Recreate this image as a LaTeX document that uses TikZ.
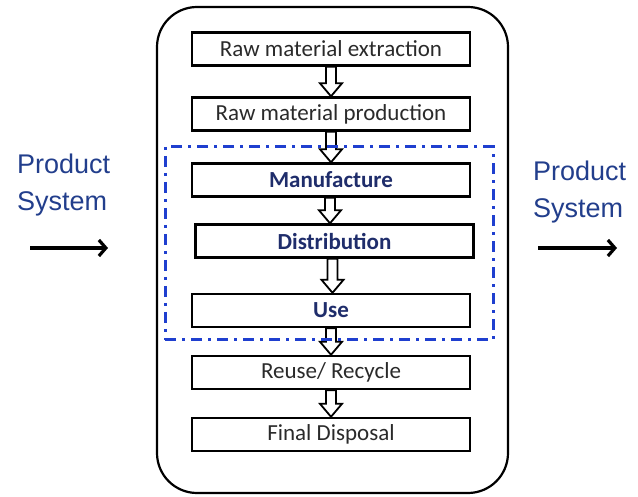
\documentclass[tikz,border=0pt]{standalone}
\usepackage{fontspec}
\setmainfont{Carlito}
\newfontfamily\arialfont{Liberation Sans}
\usetikzlibrary{arrows.meta,calc}
\definecolor{scopeblue}{HTML}{1F3FCF}
\definecolor{navytext}{HTML}{1F2D6B}
\definecolor{greytext}{HTML}{2A2A2A}
\definecolor{systemblue}{HTML}{223E8C}

\begin{document}
\begin{tikzpicture}[x=1pt,y=-1pt,
  stage/.style={draw,line width=2.4pt,minimum width=278pt,minimum height=33pt,
                inner sep=0pt,font=\fontsize{23}{26}\selectfont,text=greytext},
  inscope/.style={stage,font=\fontsize{23}{26}\selectfont\bfseries,text=navytext},
  blockarrow/.style={draw,line width=1.8pt,
    to path={let \p1=(\tikztostart),\p2=(\tikztotarget) in
      (\x1-5pt,\y1) -- (\x1-5pt,\y2+13pt) -- (\x1-11pt,\y2+13pt) -- (\x1,\y2)
      -- (\x1+11pt,\y2+13pt) -- (\x1+5pt,\y2+13pt) -- (\x1+5pt,\y1) -- cycle}},
  label/.style={align=left,text=systemblue,inner sep=0pt,
                font=\arialfont\fontsize{27}{37}\selectfont},
  flow/.style={line width=3.2pt,-{Straight Barb[length=7pt,width=16pt]}}]
  \useasboundingbox (0,0) rectangle (638,497);
  \node[draw,line width=2.2pt,rounded corners=40pt,minimum width=351pt,
        minimum height=486pt] (system) at (332.5,250) {};
  \node[stage] (extract) at (331,49) {Raw material extraction};
  \node[stage] (produce) at (331,114) {Raw material production};
  \node[inscope] (make) at (331,180) {Manufacture};
  \node[inscope] (distrib) at (334.5,241) {Distribution};
  \node[inscope] (use) at (331,310.5) {Use};
  \node[stage] (recycle) at (331,372.5) {Reuse/ Recycle};
  \node[stage] (dispose) at (331,434.5) {Final Disposal};
  \draw[blockarrow] (extract.south) to (produce.north);
  \draw[blockarrow] (produce.south) to (make.north);
  \draw[blockarrow] ([xshift=-1pt]make.south) to (distrib.north);
  \draw[blockarrow] ([xshift=-2pt]distrib.south) to (use.north);
  \draw[blockarrow] (use.south) to (recycle.north);
  \draw[blockarrow] (recycle.south) to (dispose.north);
  % study scope
  \node[draw=scopeblue,line width=3pt,
        dash pattern=on 11pt off 6pt on 3pt off 6pt,
        minimum width=328pt,minimum height=193pt] (scope) at (329,243.5) {};
  % product system in and out
  \node[label,anchor=west] (insys) at (17,185) {Product\\System};
  \node[label,anchor=west] (outsys) at (533,192) {Product\\System};
  \coordinate (intail) at (30,248);
  \coordinate (inhead) at (108,248);
  \coordinate (outtail) at (538,248);
  \coordinate (outhead) at (617,248);
  \draw[flow] (intail) -- (inhead);
  \draw[flow] (outtail) -- (outhead);
\end{tikzpicture}
\end{document}
